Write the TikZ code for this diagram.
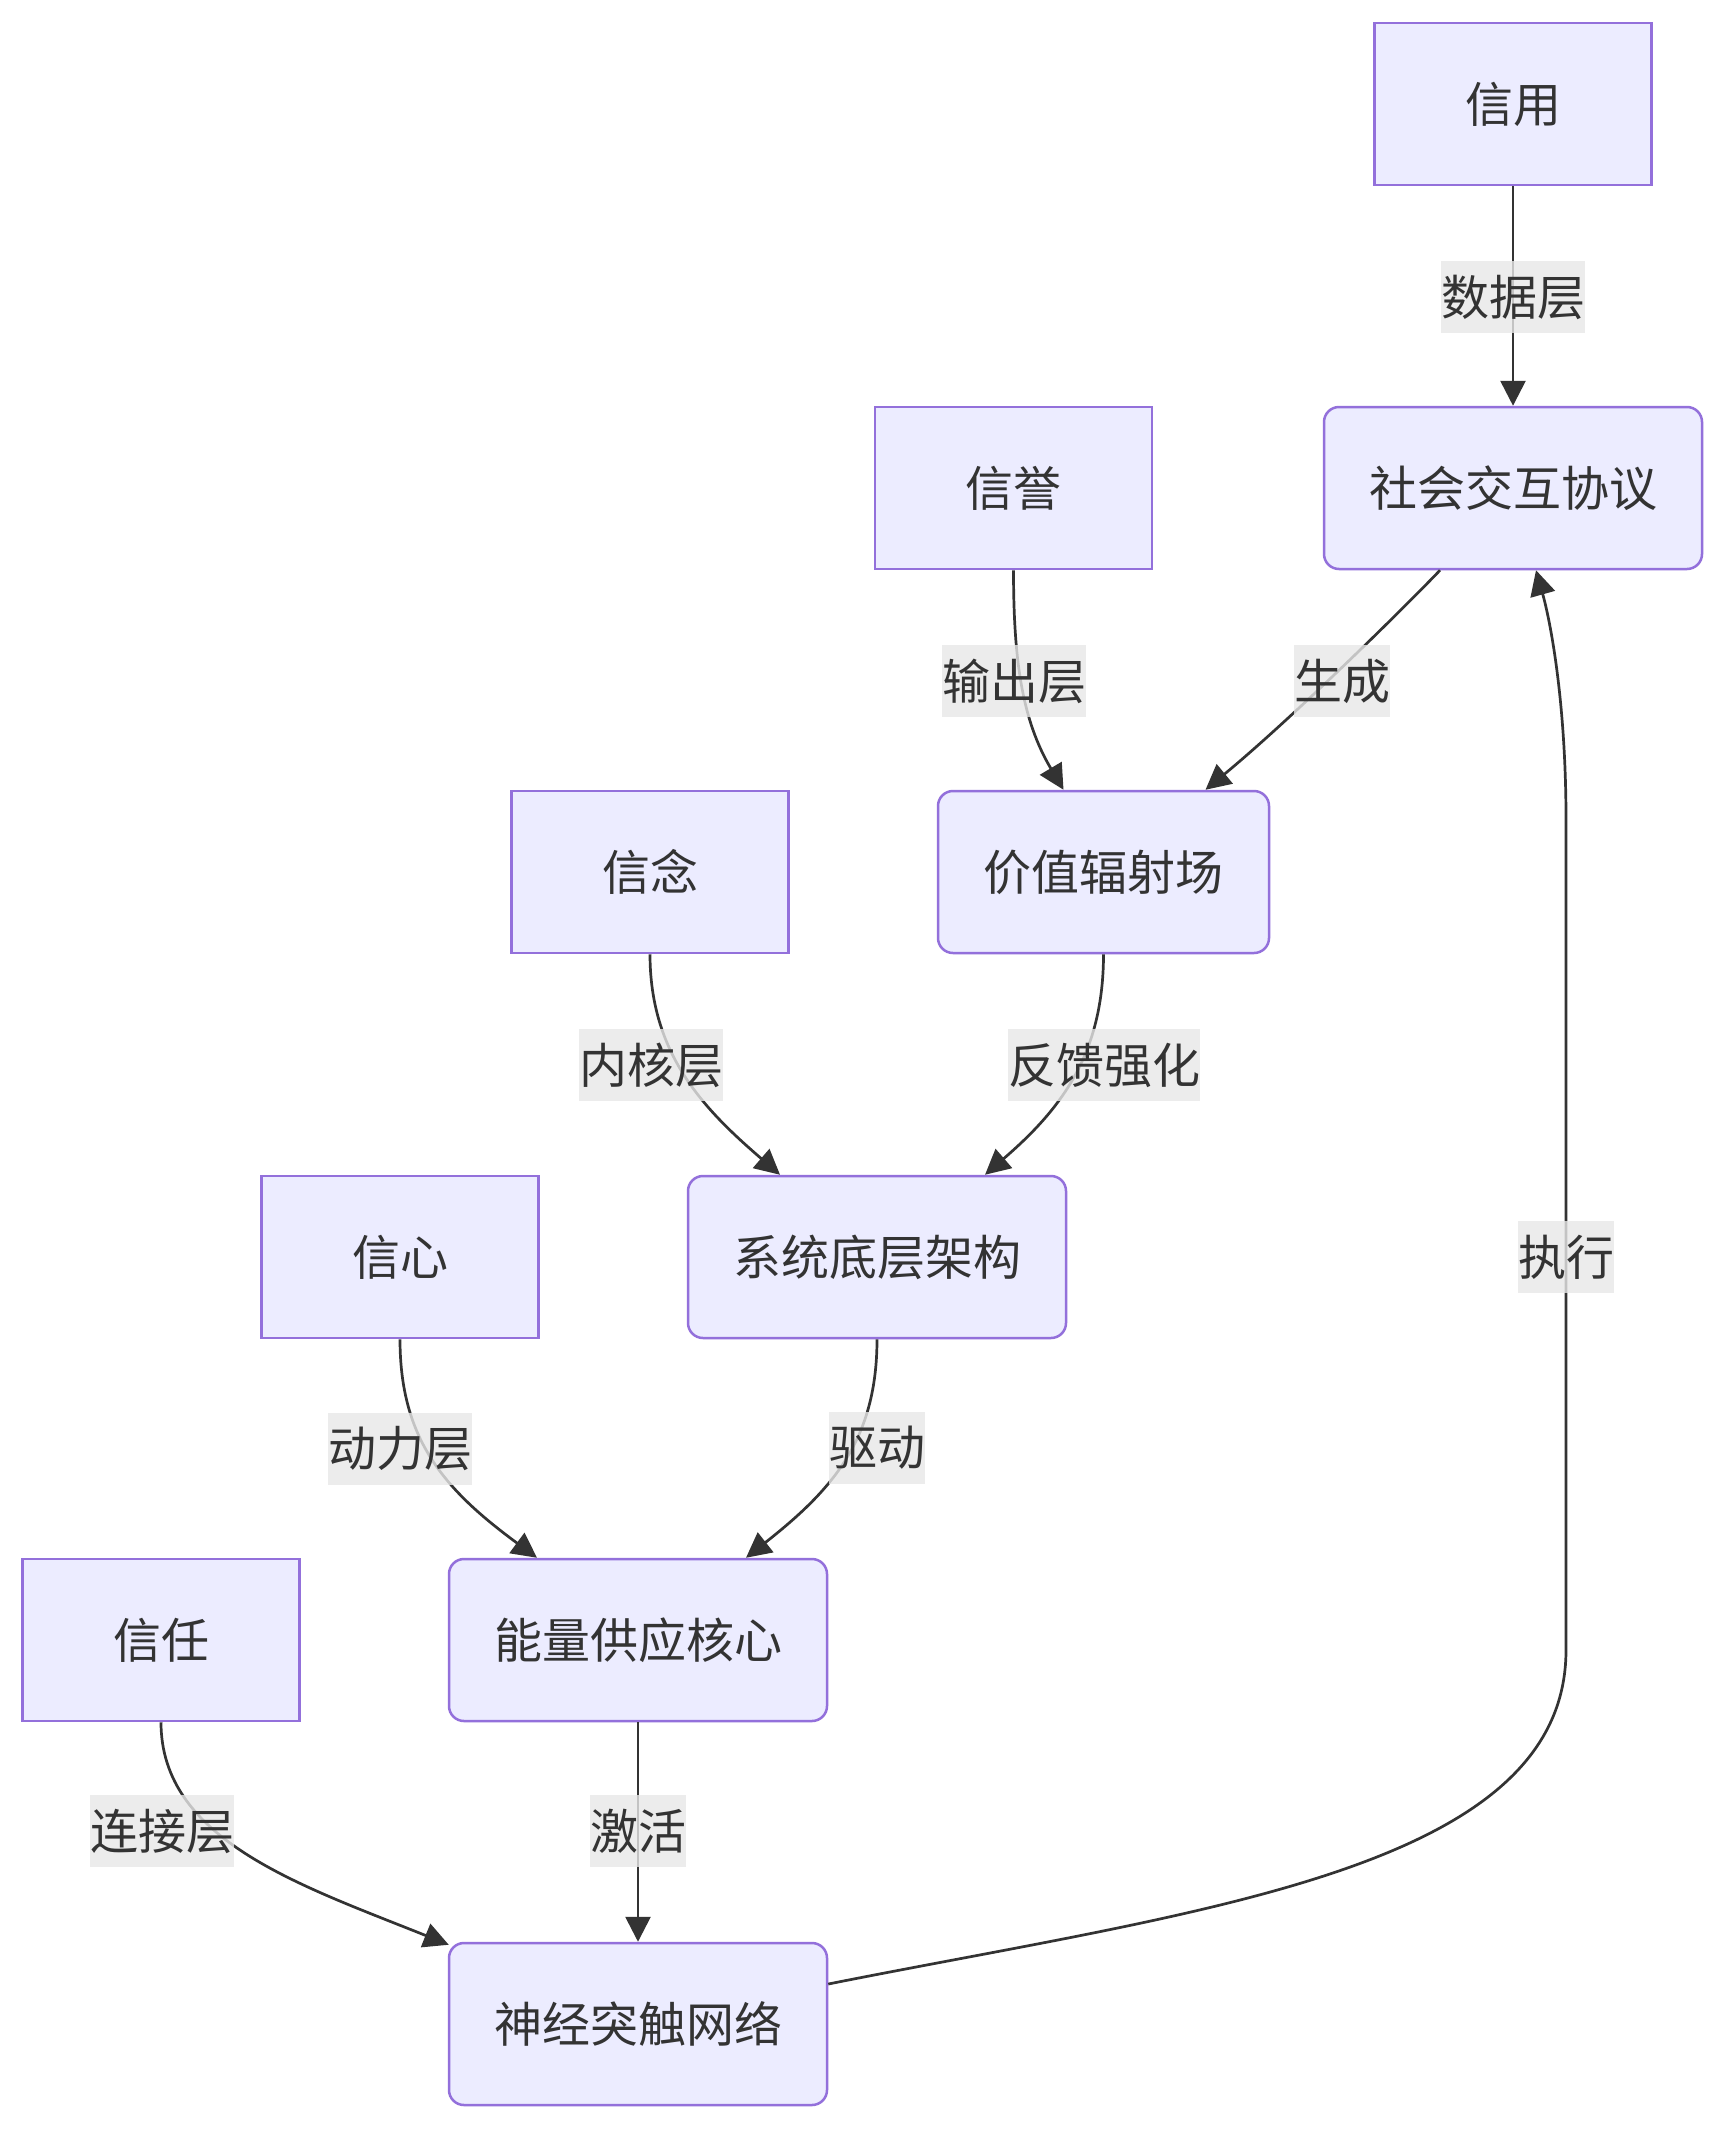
\documentclass[tikz,border=0pt]{standalone}
\usepackage{fontspec}
\setmainfont{Noto Sans CJK SC}
\usetikzlibrary{arrows.meta,calc}
\definecolor{nodefill}{HTML}{ECECFF}
\definecolor{nodeline}{HTML}{9370DB}
\definecolor{txt}{HTML}{333333}
\definecolor{lblbg}{HTML}{E8E8E8}
\begin{document}
\begin{tikzpicture}[x=0.5pt,y=-0.5pt,
  every node/.style={font=\fontsize{24}{30}\selectfont, text=txt},
  base/.style={draw=nodeline, fill=nodefill, line width=1.25pt, minimum height=81pt},
  sqbox/.style={base, minimum width=138.5pt},
  rbox/.style={base, rounded corners=7.5pt, minimum width=189pt},
  lbl/.style={fill=lblbg, fill opacity=0.8, text opacity=1, inner xsep=0pt, inner ysep=0pt, minimum height=36pt},
  conn/.style={draw=txt, line width=1.35pt, -{Triangle[length=12.5pt,width=12.5pt]}}
]
\useasboundingbox (0,0) rectangle (1726,2130);
\fill[white] (0,0) rectangle (1726,2130);

% nodes
\node[sqbox] (xy)  at (1513,104) {信用};
\node[rbox]  (sh)  at (1513,488) {社会交互协议};
\node[sqbox] (xyu) at (1013.5,488) {信誉};
\node[rbox, minimum width=165.5pt] (jz) at (1103.5,872) {价值辐射场};
\node[sqbox] (xn)  at (650,872) {信念};
\node[rbox]  (xt)  at (877,1257) {系统底层架构};
\node[sqbox] (xx)  at (400,1257) {信心};
\node[rbox]  (nl)  at (638,1640) {能量供应核心};
\node[sqbox] (xr)  at (161,1640) {信任};
\node[rbox]  (sj)  at (638,2024) {神经突触网络};

% connectors
\draw[conn] (xy.south) -- (sh.north);
\draw[conn] (xyu.south) .. controls (1013.5,660) and (1022,720) .. ($(jz.north)+(-40,0)$);
\draw[conn] ($(sh.south)+(-73,0)$) .. controls (1400,612) and (1290,720) .. ($(jz.north)+(102,0)$);
\draw[conn] (xn.south) .. controls (650,1055) and (705,1110) .. ($(xt.north)+(-97,0)$);
\draw[conn] (jz.south) .. controls (1103.5,1055) and (1060,1110) .. ($(xt.north)+(108,0)$);
\draw[conn] (xx.south) .. controls (400,1440) and (445,1490) .. ($(nl.north)+(-101,0)$);
\draw[conn] (xt.south) .. controls (877,1440) and (832,1490) .. ($(nl.north)+(108,0)$);
\draw[conn] (xr.south) .. controls (161,1840) and (300,1885) .. ($(sj.north west)+(1,3)$);
\draw[conn] (nl.south) -- (sj.north);
\draw[conn] ($(sj.east)+(0,-40)$) .. controls (1200,1910) and (1566,1870) .. (1566,1650)
   -- (1566,820) .. controls (1566,700) and (1550,620) .. ($(sh.south)+(23,0)$);

% edge labels
\node[lbl] (l1)  at (1513,297)  {数据层};
\node[lbl] (l2)  at (1014,681)  {输出层};
\node[lbl] (l3)  at (1342,681)  {生成};
\node[lbl] (l4)  at (651,1065)  {内核层};
\node[lbl] (l5)  at (1104,1065) {反馈强化};
\node[lbl] (l6)  at (1566,1257) {执行};
\node[lbl] (l7)  at (400,1449)  {动力层};
\node[lbl] (l8)  at (877,1448)  {驱动};
\node[lbl] (l9)  at (162,1831)  {连接层};
\node[lbl] (l10) at (638,1831)  {激活};
\end{tikzpicture}
\end{document}
